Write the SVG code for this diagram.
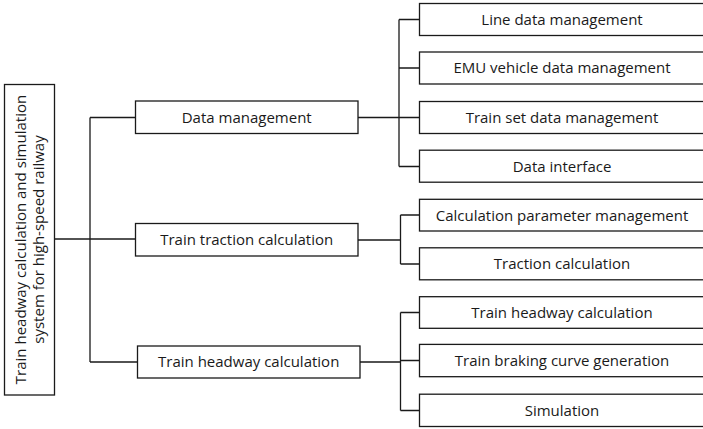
<svg xmlns="http://www.w3.org/2000/svg" width="703" height="429" viewBox="0 0 703 429">
<style>
.box{fill:#fff;stroke:#1a1a1a;stroke-width:1.3}
.t{font-family:"Open Sans","Noto Sans",sans-serif;font-size:15px;fill:#1a1a1a;text-anchor:middle}
.c{fill:none;stroke:#1a1a1a;stroke-width:1.3}
</style>
<rect width="703" height="429" fill="#fff"/>
<g id="connectors" class="c">
<path d="M54.5 239H135"/>
<path d="M90 117.5V362M90 117.5H135.5M90 362H137.5"/>
<path d="M358 117.5H399M399 19.5V166.5M399 19.5H419.5M399 68H419.5M399 117.5H419.5M399 166.5H419.5"/>
<path d="M358 240H400.5M400.5 215V264M400.5 215H419.5M400.5 264H419.5"/>
<path d="M360 362H400.5M400.5 312.5V410.5M400.5 312.5H419.5M400.5 360.5H419.5M400.5 410.5H419.5"/>
</g>
<g id="root"><rect class="box" x="4.5" y="84.5" width="50" height="310.5"/>
<text class="t" transform="translate(29,239.5) rotate(-90)"><tspan x="0" y="-3">Train headway calculation and simulation</tspan><tspan x="0" y="15">system for high-speed railway</tspan></text></g>
<g id="n-data"><rect class="box" x="135.5" y="101" width="222.5" height="32.5"/><text class="t" x="246.7" y="122.7">Data management</text></g>
<g id="n-traction"><rect class="box" x="135.5" y="223.5" width="222.5" height="32.5"/><text class="t" x="246.7" y="245">Train traction calculation</text></g>
<g id="n-headway"><rect class="box" x="137.5" y="346" width="222.5" height="32"/><text class="t" x="248.7" y="367.3">Train headway calculation</text></g>
<g id="n-line"><rect class="box" x="419.5" y="3.5" width="300" height="32"/><text class="t" x="562" y="24.8">Line data management</text></g>
<g id="n-emu"><rect class="box" x="419.5" y="52" width="300" height="32"/><text class="t" x="562" y="73.3">EMU vehicle data management</text></g>
<g id="n-trainset"><rect class="box" x="419.5" y="101.5" width="300" height="32"/><text class="t" x="562" y="122.8">Train set data management</text></g>
<g id="n-interface"><rect class="box" x="419.5" y="150.2" width="300" height="32"/><text class="t" x="562" y="171.5">Data interface</text></g>
<g id="n-param"><rect class="box" x="419.5" y="199.3" width="300" height="31.7"/><text class="t" x="562" y="220.5">Calculation parameter management</text></g>
<g id="n-tractcalc"><rect class="box" x="419.5" y="247.8" width="300" height="32"/><text class="t" x="562" y="269">Traction calculation</text></g>
<g id="n-headcalc"><rect class="box" x="419.5" y="296.7" width="300" height="31.6"/><text class="t" x="562" y="317.8">Train headway calculation</text></g>
<g id="n-braking"><rect class="box" x="419.5" y="344.4" width="300" height="32.3"/><text class="t" x="562" y="365.8">Train braking curve generation</text></g>
<g id="n-sim"><rect class="box" x="419.5" y="394.2" width="300" height="32.3"/><text class="t" x="562" y="415.6">Simulation</text></g>
</svg>
